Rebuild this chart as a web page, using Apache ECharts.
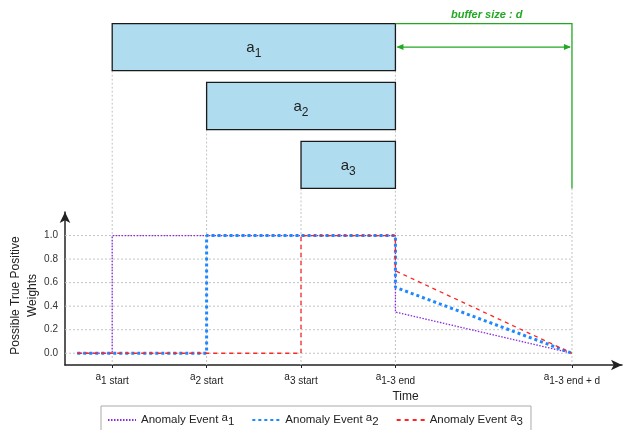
<!DOCTYPE html>
<html>
<head>
<meta charset="utf-8">
<script src="https://cdn.jsdelivr.net/npm/echarts@6/dist/echarts.min.js"></script>
<style>
  html, body { margin: 0; padding: 0; background: #fff; }
  #chart { width: 627px; height: 430px; }
</style>
</head>
<body>
<div id="chart"></div>
<script>
// Anomaly events: index, start and end on the time axis, row in the timeline panel
const eventIds = ['1', '2', '3'];
const eventStart = [1, 2, 3];
const eventEnd = [4, 4, 4];
const eventRow = [1, 2, 3];
const bufferEnd = 5.87;   // end of events + buffer d

// Time-axis ticks and their labels ("a" + subscript part)
const tickValues = [1, 2, 3, 4, 5.87];
const tickSub = ['1 start', '2 start', '3 start', '1-3 end', '1-3 end + d'];

// Weight curves for each event
const a1Time = [0.63, 1, 1, 4, 4, 5.87];
const a1Weight = [0, 0, 1, 1, 0.35, 0];
const a2Time = [0.63, 2, 2, 4, 4, 5.87];
const a2Weight = [0, 0, 1, 1, 0.56, 0];
const a3Time = [0.63, 3, 3, 4, 4, 5.87];
const a3Weight = [0, 0, 1, 1, 0.70, 0];

const yTicks = [0, 0.2, 0.4, 0.6, 0.8, 1.0];

const FONT = 'Liberation Sans, Arial, Helvetica, sans-serif';
const X_MIN = 0.5, X_MAX = 6.4;
const ROW_MIN = 0.2, ROW_MAX = 3.8;
const Y_MIN = -0.1, Y_MAX = 1.2;
const GREEN = '#22a822';
const GUIDE = '#c4c4c4';

const zip = (xs, ys) => xs.map((x, i) => [x, ys[i]]);

const chart = echarts.init(document.getElementById('chart'), null, { renderer: 'canvas' });

const boxes = eventStart.map((s, i) => [s, eventEnd[i], eventRow[i], i]);
const topGuides = eventStart.map((s, i) => [s, eventRow[i] + 0.4])
  .concat([[eventEnd[0], eventRow[0] + 0.4], [bufferEnd, eventRow[2] + 0.4]]);

const option = {
  animation: false,
  textStyle: { fontFamily: FONT },
  grid: [
    { left: 65, width: 557, top: 0, height: 212, outerBoundsMode: 'none' },
    { left: 65, width: 557, top: 212, height: 153, outerBoundsMode: 'none' }
  ],
  xAxis: [
    { gridIndex: 0, type: 'value', min: X_MIN, max: X_MAX, show: false },
    {
      gridIndex: 1, type: 'value', min: X_MIN, max: X_MAX,
      name: 'Time', nameLocation: 'middle', nameGap: 26,
      nameTextStyle: { fontSize: 12, color: '#222', padding: [0, 0, 0, 124] },
      axisLine: { onZero: false, lineStyle: { color: '#222', width: 1.5 }, symbol: ['none', 'arrow'], symbolSize: [8, 11] },
      axisTick: { show: true, length: 3, customValues: tickValues, lineStyle: { color: '#222' } },
      splitLine: { show: false },
      axisLabel: {
        customValues: tickValues, margin: 7, color: '#222',
        formatter: v => {
          const i = tickValues.findIndex(t => Math.abs(t - v) < 1e-6);
          return i < 0 ? '' : '{a|a}{s|' + tickSub[i] + '}';
        },
        rich: {
          a: { fontSize: 10, color: '#222', verticalAlign: 'top', lineHeight: 14 },
          s: { fontSize: 10, color: '#222', verticalAlign: 'bottom', lineHeight: 14, padding: [4, 0, 0, 0] }
        }
      }
    }
  ],
  yAxis: [
    { gridIndex: 0, type: 'value', inverse: true, min: ROW_MIN, max: ROW_MAX, show: false },
    {
      gridIndex: 1, type: 'value', min: Y_MIN, max: Y_MAX,
      name: 'Possible True Positive\nWeights', nameLocation: 'middle', nameGap: 24, nameRotate: 90,
      nameMoveOverlap: false,
      nameTextStyle: { fontSize: 12, color: '#222', lineHeight: 17, padding: [0, 14, 0, 0] },
      axisLine: { onZero: false, lineStyle: { color: '#222', width: 1.5 }, symbol: ['none', 'arrow'], symbolSize: [8, 11] },
      axisTick: { show: false },
      splitLine: { show: false },
      axisLabel: {
        customValues: yTicks, margin: 7, fontSize: 10, color: '#333',
        formatter: v => v.toFixed(1)
      }
    }
  ],
  legend: {
    data: ['a1', 'a2', 'a3'],
    left: 101, top: 406,
    padding: [5, 8, 8, 6],
    itemWidth: 28, itemHeight: 10, itemGap: 17,
    borderColor: '#aaa', borderWidth: 1,
    itemStyle: { opacity: 0 },
    formatter: name => 'Anomaly Event {a|a}{s|' + name.slice(1) + '}',
    textStyle: {
      fontSize: 11.5, color: '#222',
      rich: {
        a: { fontSize: 11.5, color: '#222', verticalAlign: 'top', lineHeight: 16 },
        s: { fontSize: 11.5, color: '#222', verticalAlign: 'bottom', lineHeight: 16, padding: [5, 0, 0, 0] }
      }
    }
  },
  series: [
    // dotted guides under the event boxes
    {
      type: 'custom', name: 'guidesTop', xAxisIndex: 0, yAxisIndex: 0, z: 1, silent: true,
      data: topGuides,
      renderItem: (params, api) => {
        const p0 = api.coord([api.value(0), api.value(1)]);
        const p1 = api.coord([api.value(0), ROW_MAX]);
        return { type: 'line', shape: { x1: p0[0], y1: p0[1], x2: p1[0], y2: p1[1] },
          style: { stroke: GUIDE, lineWidth: 1, lineDash: [2, 2] } };
      }
    },
    // event boxes
    {
      type: 'custom', name: 'events', xAxisIndex: 0, yAxisIndex: 0, z: 3, silent: true,
      data: boxes,
      renderItem: (params, api) => {
        const s = api.value(0), e = api.value(1), r = api.value(2), i = api.value(3);
        const p0 = api.coord([s, r - 0.4]);
        const p1 = api.coord([e, r + 0.4]);
        return {
          type: 'group',
          children: [
            { type: 'rect', shape: { x: p0[0], y: p0[1], width: p1[0] - p0[0], height: p1[1] - p0[1] },
              style: { fill: '#afdcef', stroke: '#1a1a1a', lineWidth: 1.3 } },
            { type: 'text', style: {
                text: '{a|a}{s|' + eventIds[i] + '}',
                x: (p0[0] + p1[0]) / 2, y: (p0[1] + p1[1]) / 2 + 3,
                align: 'center', verticalAlign: 'middle',
                rich: {
                  a: { fontSize: 15, fill: '#222', fontFamily: FONT, verticalAlign: 'top', lineHeight: 20 },
                  s: { fontSize: 12, fill: '#222', fontFamily: FONT, verticalAlign: 'bottom', lineHeight: 20, padding: [6, 0, 0, 0] }
                }
              } }
          ]
        };
      }
    },
    // buffer annotation
    {
      type: 'custom', name: 'buffer', xAxisIndex: 0, yAxisIndex: 0, z: 4, silent: true,
      data: [[eventEnd[0], bufferEnd]],
      renderItem: (params, api) => {
        const x0 = api.value(0), x1 = api.value(1);
        const top = api.coord([x0, eventRow[0] - 0.4]);
        const corner = api.coord([x1, eventRow[0] - 0.4]);
        const bottom = api.coord([x1, eventRow[2] + 0.4]);
        const aL = api.coord([x0, eventRow[0]]);
        const aR = api.coord([x1, eventRow[0]]);
        const ah = 7, aw = 3;
        return {
          type: 'group',
          children: [
            { type: 'polyline', shape: { points: [top, corner, bottom] },
              style: { stroke: GREEN, lineWidth: 1.3, fill: null } },
            { type: 'line', shape: { x1: aL[0] + 2, y1: aL[1], x2: aR[0] - 2, y2: aR[1] },
              style: { stroke: GREEN, lineWidth: 1.3 } },
            { type: 'polygon', shape: { points: [[aL[0] + 1, aL[1]], [aL[0] + 1 + ah, aL[1] - aw], [aL[0] + 1 + ah, aL[1] + aw]] },
              style: { fill: GREEN } },
            { type: 'polygon', shape: { points: [[aR[0] - 1, aR[1]], [aR[0] - 1 - ah, aR[1] - aw], [aR[0] - 1 - ah, aR[1] + aw]] },
              style: { fill: GREEN } },
            { type: 'text', style: {
                text: 'buffer size : d', x: (top[0] + corner[0]) / 2 + 3, y: top[1] - 3,
                align: 'center', verticalAlign: 'bottom',
                fontSize: 11, fontWeight: 'bold', fontStyle: 'italic', fontFamily: FONT, fill: GREEN
              } }
          ]
        };
      }
    },
    // dotted grid in the weights panel
    {
      type: 'custom', name: 'gridLines', xAxisIndex: 1, yAxisIndex: 1, z: 1, silent: true,
      data: yTicks.map(v => [0, v]).concat(tickValues.map(v => [1, v])),
      renderItem: (params, api) => {
        const kind = api.value(0), v = api.value(1);
        let p0, p1;
        if (kind === 0) { p0 = api.coord([X_MIN, v]); p1 = api.coord([bufferEnd, v]); }
        else { p0 = api.coord([v, Y_MAX]); p1 = api.coord([v, Y_MIN]); }
        return { type: 'line', shape: { x1: p0[0], y1: p0[1], x2: p1[0], y2: p1[1] },
          style: { stroke: GUIDE, lineWidth: 1, lineDash: [2, 2] } };
      }
    },
    {
      type: 'line', name: 'a1', xAxisIndex: 1, yAxisIndex: 1, z: 5,
      data: zip(a1Time, a1Weight), symbol: 'none',
      lineStyle: { color: '#8a2be2', width: 1.3, type: [1.5, 1.5] },
      itemStyle: { color: '#8a2be2' }
    },
    {
      type: 'line', name: 'a2', xAxisIndex: 1, yAxisIndex: 1, z: 6,
      data: zip(a2Time, a2Weight), symbol: 'none',
      lineStyle: { color: '#1e88ff', width: 3, type: [3, 3] },
      itemStyle: { color: '#1e88ff' }
    },
    {
      type: 'line', name: 'a3', xAxisIndex: 1, yAxisIndex: 1, z: 7,
      data: zip(a3Time, a3Weight), symbol: 'none',
      lineStyle: { color: '#ff2424', width: 1.3, type: [4, 4] },
      itemStyle: { color: '#ff2424' }
    }
  ]
};

chart.setOption(option);
</script>
</body>
</html>
